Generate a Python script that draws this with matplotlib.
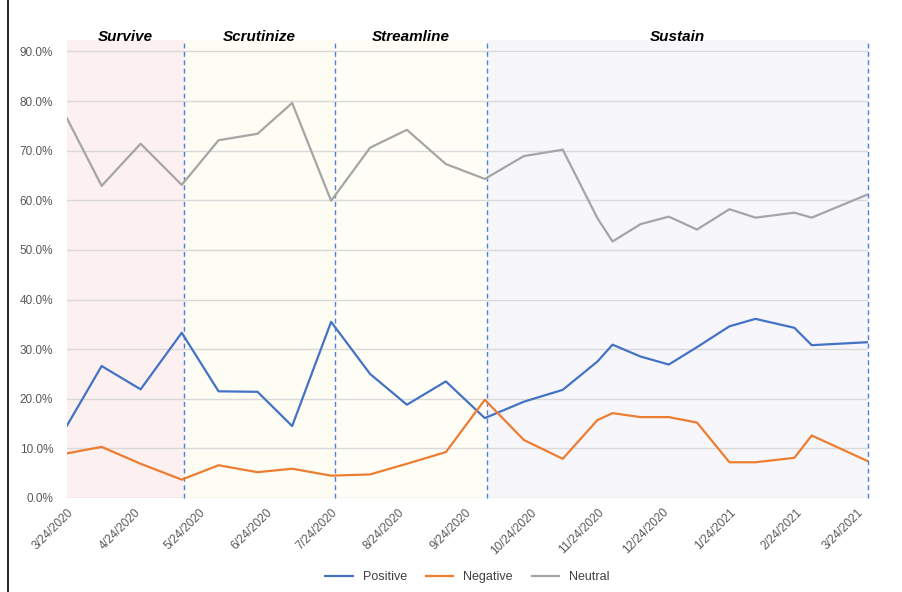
import matplotlib
matplotlib.use('Agg')
import matplotlib.pyplot as plt
import matplotlib.transforms as mtransforms
import numpy as np
import pandas as pd

#%% Data
dates = ['2020-03-24', '2020-04-09', '2020-04-27', '2020-05-16', '2020-06-02',
         '2020-06-20', '2020-07-06', '2020-07-24', '2020-08-11', '2020-08-28',
         '2020-09-15', '2020-10-03', '2020-10-21', '2020-11-08', '2020-11-24',
         '2020-12-01', '2020-12-14', '2020-12-27', '2021-01-09', '2021-01-24',
         '2021-02-05', '2021-02-23', '2021-03-03', '2021-03-29']

positive = [14.6, 26.6, 21.9, 33.3, 21.5, 21.4, 14.5, 35.5, 25.0, 18.8,
            23.5, 16.1, 19.4, 21.8, 27.5, 30.9, 28.5, 26.9, 30.4, 34.6,
            36.1, 34.3, 30.8, 31.4]
negative = [9.0, 10.3, 6.9, 3.7, 6.6, 5.2, 5.9, 4.5, 4.75, 6.9,
            9.25, 19.8, 11.7, 7.9, 15.7, 17.1, 16.3, 16.3, 15.2, 7.2,
            7.2, 8.1, 12.6, 7.4]
neutral = [76.5, 62.9, 71.4, 63.1, 72.1, 73.4, 79.6, 59.9, 70.6, 74.2,
           67.3, 64.3, 68.9, 70.2, 56.4, 51.7, 55.2, 56.7, 54.1, 58.2,
           56.5, 57.5, 56.5, 61.2]

phases = ['Survive', 'Scrutinize', 'Streamline', 'Sustain']
phase_edges = ['2020-03-24', '2020-05-17', '2020-07-26', '2020-10-04', '2021-03-29']
phase_colors = ['#fdf0f0', '#fefdf3', '#fffef6', '#f7f7fb']

tick_dates = ['2020-03-24', '2020-04-24', '2020-05-24', '2020-06-24', '2020-07-24',
              '2020-08-24', '2020-09-24', '2020-10-24', '2020-11-24', '2020-12-24',
              '2021-01-24', '2021-02-24', '2021-03-24']
tick_labels = ['3/24/2020', '4/24/2020', '5/24/2020', '6/24/2020', '7/24/2020',
               '8/24/2020', '9/24/2020', '10/24/2020', '11/24/2020', '12/24/2020',
               '1/24/2021', '2/24/2021', '3/24/2021']

#%% Plot
x = pd.to_datetime(dates)
edges = pd.to_datetime(phase_edges)

plt.rcParams['font.family'] = ['Liberation Sans', 'DejaVu Sans']

fig = plt.figure(figsize=(9.03, 5.92), dpi=100)
ax = fig.add_axes([67/903, 1-498/592, (868-67)/903, (498-40)/592])

ymax = 92.3
trans = mtransforms.blended_transform_factory(ax.transData, ax.transAxes)
for i in range(len(phases)):
    ax.axvspan(edges[i], edges[i+1], color=phase_colors[i], zorder=0, lw=0)
    mid = edges[i] + (edges[i+1] - edges[i]) / 2
    ax.text(mid, 1.007, phases[i], transform=trans, ha='center', va='center',
            fontsize=11, fontweight='bold', fontstyle='italic', color='black')
for e in edges[1:]:
    ax.axvline(e, color='#4f7fd8', ls=(0, (3.5, 2.5)), lw=1, zorder=3, clip_on=False)

for yv in np.arange(10, 91, 10):
    ax.axhline(yv, color='#d9d9d9', lw=1, zorder=1)
ax.axhline(0, color='#d0d0d0', lw=1, zorder=1)

ax.plot(x, positive, color='#4472c4', lw=1.6, label='Positive', zorder=4)
ax.plot(x, negative, color='#ed7d31', lw=1.6, label='Negative', zorder=4)
ax.plot(x, neutral, color='#a5a5a5', lw=1.6, label='Neutral', zorder=4)

ax.set_xlim(x[0], x[-1])
ax.set_ylim(0, ymax)
ax.set_yticks(np.arange(0, 91, 10))
ax.set_yticklabels(['%.1f%%' % v for v in np.arange(0, 91, 10)])
ax.set_xticks(pd.to_datetime(tick_dates))
ax.set_xticklabels(tick_labels, rotation=45, ha='right', rotation_mode='anchor')
ax.tick_params(axis='both', length=0, labelsize=8.5, labelcolor='#595959')
ax.tick_params(axis='y', pad=10)
ax.tick_params(axis='x', pad=6)
for s in ax.spines.values():
    s.set_visible(False)

ax.legend(loc='center', bbox_to_anchor=(0.5, (1-577/592 - (1-498/592)) / ((498-40)/592)),
          bbox_transform=ax.transAxes, ncol=3, frameon=False, fontsize=9,
          handlelength=2.2, columnspacing=1.5, labelcolor='#404040')

# outer frame line on the left
fig.add_artist(plt.Line2D([8/903, 8/903], [0, 1], color='black', lw=1.2,
                          transform=fig.transFigure))

fig.savefig('out.png', dpi=100)
